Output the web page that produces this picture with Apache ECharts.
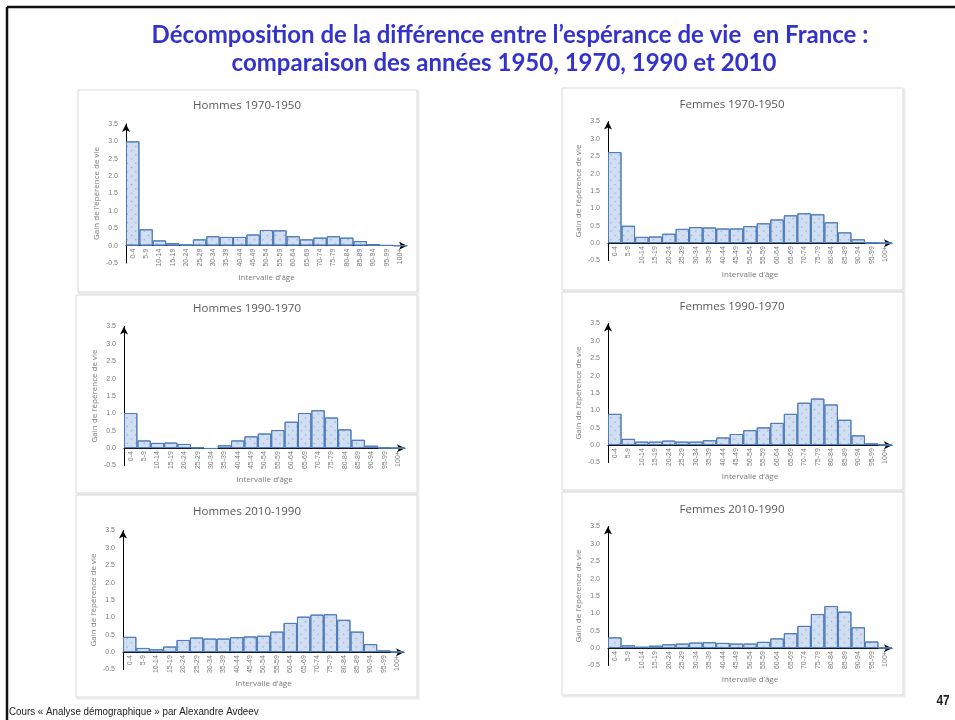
<!DOCTYPE html>
<html>
<head>
<meta charset="utf-8">
<script src="https://cdn.jsdelivr.net/npm/echarts@6/dist/echarts.min.js"></script>
<style>html,body{margin:0;padding:0;background:#fff}#c{width:955px;height:720px}</style>
</head>
<body>
<div id="c"></div>
<script>
// ---- Data ----
const categories = ['0-4','5-9','10-14','15-19','20-24','25-29','30-34','35-39','40-44','45-49','50-54','55-59','60-64','65-69','70-74','75-79','80-84','85-89','90-94','95-99','100+'];
const yTicks = [-0.5, 0, 0.5, 1, 1.5, 2, 2.5, 3, 3.5];
const panelTitles = ['Hommes 1970-1950','Femmes 1970-1950','Hommes 1990-1970','Femmes 1990-1970','Hommes 2010-1990','Femmes 2010-1990'];
const hommes1970_1950 = [3.00,0.47,0.15,0.07,0.03,0.18,0.27,0.25,0.25,0.32,0.45,0.44,0.27,0.18,0.23,0.27,0.23,0.13,0.04,0.01,0.00];
const femmes1970_1950 = [2.62,0.50,0.18,0.19,0.27,0.41,0.46,0.45,0.42,0.42,0.49,0.57,0.68,0.80,0.86,0.83,0.60,0.31,0.11,0.01,0.00];
const hommes1990_1970 = [1.01,0.22,0.15,0.16,0.12,0.02,-0.02,0.08,0.22,0.34,0.42,0.52,0.76,1.01,1.09,0.88,0.54,0.24,0.07,0.01,0.00];
const femmes1990_1970 = [0.90,0.18,0.10,0.10,0.13,0.10,0.10,0.14,0.22,0.32,0.43,0.51,0.64,0.90,1.22,1.34,1.17,0.73,0.28,0.05,0.01];
const hommes2010_1990 = [0.44,0.12,0.08,0.16,0.35,0.42,0.39,0.39,0.43,0.45,0.47,0.59,0.84,1.02,1.08,1.09,0.93,0.59,0.23,0.05,0.01];
const femmes2010_1990 = [0.31,0.08,0.04,0.07,0.11,0.13,0.16,0.17,0.15,0.13,0.13,0.18,0.28,0.43,0.64,0.98,1.21,1.05,0.60,0.19,0.01];
const seriesData = [hommes1970_1950, femmes1970_1950, hommes1990_1970, femmes1990_1970, hommes2010_1990, femmes2010_1990];
const mainTitle = ['Décomposition de la différence entre l\u2019espérance de vie  en France :', 'comparaison des années 1950, 1970, 1990 et 2010'];
const footer = 'Cours « Analyse démographique » par Alexandre Avdeev';
const pageNumber = '47';
const xName = 'Intervalle d\u2019âge';
const yName = 'Gain de l\u2019épérence de vie';

// ---- Layout ----
const grids = [
  {left:126, top:124, width:281, height:139},
  {left:608, top:121.5, width:284, height:139},
  {left:124, top:326.5, width:281, height:139},
  {left:608, top:323.5, width:284, height:139},
  {left:123, top:530.5, width:281, height:139},
  {left:608, top:526.5, width:284, height:139}
];
const frames = [
  {x:78, y:90, w:339, h:202},
  {x:562, y:88, w:341, h:202},
  {x:76, y:295, w:341, h:198},
  {x:562, y:292, w:341, h:198},
  {x:76, y:495, w:341, h:202},
  {x:562, y:492, w:341, h:203}
];
const titlePos = [[247,106],[732,105],[247,309],[732,307],[247,512],[732,510]];
const yMin = yTicks[0], yMax = yTicks[yTicks.length-1];

const tickColor = '#7a7a7a';
const tickFont = 'Liberation Sans';
const graphics = [];
graphics.push({type:'line', shape:{x1:7,y1:7,x2:955,y2:7}, style:{stroke:'#111', lineWidth:2.5}});
graphics.push({type:'line', shape:{x1:7,y1:7,x2:7,y2:720}, style:{stroke:'#111', lineWidth:2.5}});
frames.forEach(f => {
  graphics.push({type:'rect', z:-10, shape:{x:f.x+1.5,y:f.y+1.5,width:f.w,height:f.h}, style:{fill:'none', stroke:'#ececec', lineWidth:2}});
  graphics.push({type:'rect', z:-9, shape:{x:f.x,y:f.y,width:f.w,height:f.h}, style:{fill:'#fff', stroke:'#d9d9d9', lineWidth:1}});
});
panelTitles.forEach((t,i) => {
  graphics.push({type:'text', x:titlePos[i][0], y:titlePos[i][1], style:{text:t, textAlign:'center', textVerticalAlign:'middle', font:'11.5px "Open Sans"', fill:'#595959'}});
});
// x-axis names, placed below the zero line of each grid
grids.forEach(g => {
  const zeroY = g.top + g.height * (yMax / (yMax - yMin));
  graphics.push({type:'text', x:g.left + g.width/2, y:zeroY + 32, style:{text:xName, textAlign:'center', textVerticalAlign:'middle', font:'8px "Open Sans"', fill:tickColor}});
});
graphics.push({type:'text', x:510, y:35, style:{text:mainTitle[0], textAlign:'center', textVerticalAlign:'middle', font:'bold 24px Lato', fill:'#3333cc'}});
graphics.push({type:'text', x:504, y:63, style:{text:mainTitle[1], textAlign:'center', textVerticalAlign:'middle', font:'bold 24px Lato', fill:'#3333cc'}});
graphics.push({type:'text', x:9, y:712, scaleX:0.89, style:{text:footer, textAlign:'left', textVerticalAlign:'middle', font:'11px "Liberation Sans"', fill:'#222'}});
graphics.push({type:'text', x:943, y:701, scaleX:0.85, style:{text:pageNumber, textAlign:'center', textVerticalAlign:'middle', font:'bold 14px "Liberation Sans"', fill:'#222'}});

const option = {
  animation:false,
  backgroundColor:'#fff',
  grid: grids.map(g => Object.assign({containLabel:false}, g)),
  xAxis: grids.map((g,i) => ({
    type:'category', gridIndex:i, data:categories,
    position:'bottom',
    offset: -g.height * (-yMin) / (yMax - yMin),
    axisLine:{onZero:false, lineStyle:{color:'#000', width:1}, symbol:['none','arrow'], symbolSize:[6,8]},
    axisTick:{show:false},
    axisLabel:{rotate:90, interval:0, fontSize:7, color:tickColor, margin:3, fontFamily:tickFont}
  })),
  yAxis: grids.map((g,i) => ({
    type:'value', gridIndex:i, min:yMin, max:yMax, interval:0.5,
    splitLine:{show:false},
    axisLine:{show:true, lineStyle:{color:'#000', width:1}, symbol:['none','arrow'], symbolSize:[6,8]},
    axisTick:{show:false},
    axisLabel:{fontSize:7, color:tickColor, margin:8, fontFamily:tickFont, formatter:v => v.toFixed(1)},
    name:yName, nameLocation:'middle', nameGap:25, nameRotate:90,
    nameTextStyle:{fontSize:8, color:tickColor, fontFamily:'Open Sans'}
  })),
  series: seriesData.map((d,i) => ({
    type:'bar', xAxisIndex:i, yAxisIndex:i, data:d,
    barCategoryGap:'0%',
    itemStyle:{
      color:'#d2dff2', borderColor:'#4f7cb8', borderWidth:1,
      decal:{symbol:'circle', symbolSize:0.5, dashArrayX:3, dashArrayY:3, rotation:Math.PI/4, color:'rgba(70,110,175,0.5)'}
    }
  })),
  graphic: graphics
};
const chart = echarts.init(document.getElementById('c'));
chart.setOption(option);
</script>
</body>
</html>
